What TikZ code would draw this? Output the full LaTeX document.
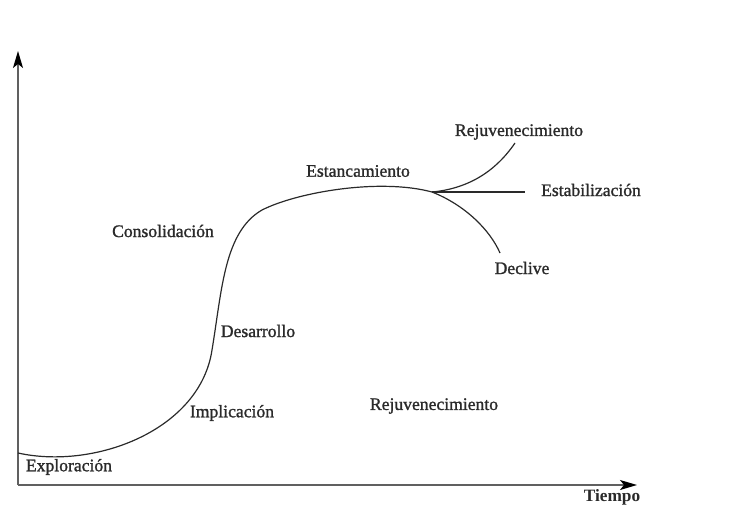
\documentclass[tikz,border=0pt]{standalone}
\usepackage{fontspec}
\setmainfont{Liberation Serif}
\newfontfamily\lblfont[FakeBold=1.3]{Liberation Serif}
\usetikzlibrary{arrows.meta}
\definecolor{ink}{HTML}{2A2A2A}
\definecolor{axis}{HTML}{606060}
\begin{document}
\begin{tikzpicture}[x=1pt,y=-1pt,
  lbl/.style={font=\lblfont\fontsize{17.6}{20}\selectfont, text=ink, inner sep=0pt, anchor=center},
  axisline/.style={draw=axis, line width=1.4pt, -{Stealth[length=17pt,width=10pt,inset=4pt,fill=black,color=black]}},
  curveline/.style={draw=ink, line width=1.2pt}]
\useasboundingbox (0,0) rectangle (735,508);
\coordinate (O) at (18,485);
\coordinate (Ytop) at (18,51);
\coordinate (Xend) at (637,485);
\draw[axisline] (O) -- (Ytop);
\draw[axisline] (O) -- (Xend);
% main curve
\coordinate (P0) at (18,453);
\coordinate (P1) at (212,350);
\coordinate (P2) at (262,210);
\coordinate (P3) at (432,192);
\coordinate (R) at (515,143);
\coordinate (S) at (525,192);
\coordinate (D) at (500,253);
\draw[curveline] (P0) .. controls (95,470) and (200,430) .. (P1)
  .. controls (222,290) and (224,232) .. (P2)
  .. controls (297.6,192) and (380,178) .. (P3);
\draw[curveline] (P3) .. controls (475,188) and (500,165) .. (R);
\draw[curveline] (P3) -- (S);
\draw[curveline] (P3) .. controls (465,205) and (490,230) .. (D);
% labels
\node[lbl] (exp) at (69,467) {Exploración};
\node[lbl] (imp) at (232,413) {Implicación};
\node[lbl] (des) at (258,331) {Desarrollo};
\node[lbl] (con) at (163,231) {Consolidación};
\node[lbl] (est) at (358,171) {Estancamiento};
\node[lbl] (rej) at (519,132) {Rejuvenecimiento};
\node[lbl] (stb) at (591,190) {Estabilización};
\node[lbl] (dec) at (522,268) {Declive};
\node[lbl] (rej2) at (434,406) {Rejuvenecimiento};
\node[lbl, font=\fontsize{17.3}{20}\selectfont\bfseries] (tie) at (612,497) {Tiempo};
\end{tikzpicture}
\end{document}
